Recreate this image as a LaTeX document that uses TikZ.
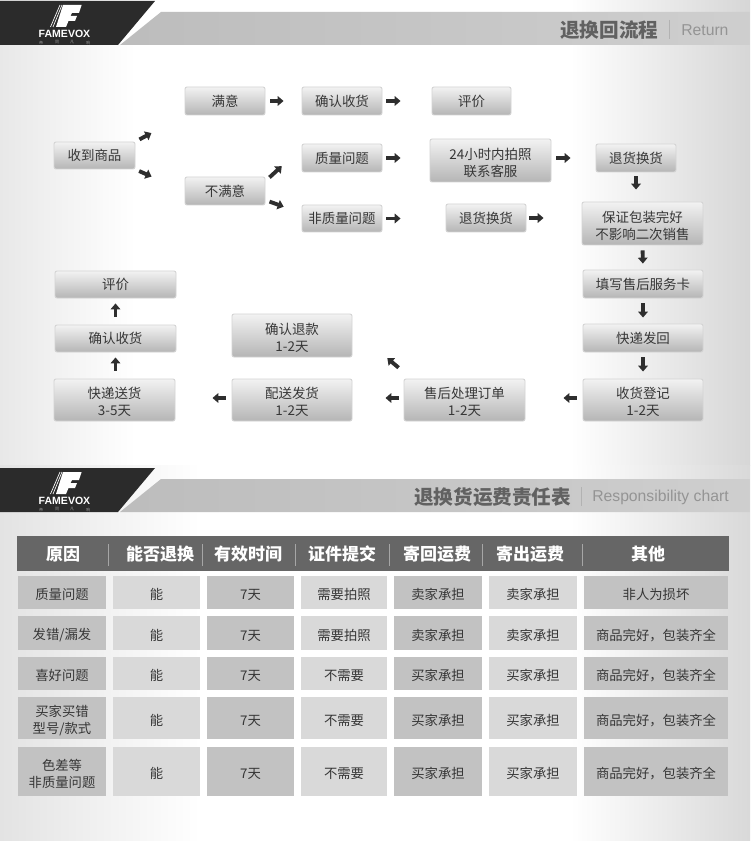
\documentclass[tikz,border=0pt]{standalone}
\usepackage{fontspec}
\setmainfont{Noto Sans CJK SC}
\newfontfamily\latinsans{Liberation Sans}
\usetikzlibrary{arrows.meta,calc}
\definecolor{ink}{HTML}{363636}
\definecolor{arrowink}{HTML}{2E2E2E}
\definecolor{darkcell}{HTML}{C2C2C2}
\definecolor{lightcell}{HTML}{D9D9D9}
\definecolor{headbar}{HTML}{666666}
\definecolor{logoblack}{HTML}{2B2B2B}
\tikzset{
  flowbox/.style={draw=black!17,line width=.7pt,rounded corners=1.5pt,top color=black!5,bottom color=black!29,
    text=ink,align=center,inner sep=0pt,font=\fontsize{10.1}{12.9}\selectfont},
  tcell/.style={inner sep=0pt,align=center,text=ink,font=\fontsize{10}{13}\selectfont},
  headtext/.style={inner sep=0pt,text=white,font=\fontsize{12.75}{15}\selectfont\bfseries},
  titletext/.style={inner sep=0pt,text=black!62,font=\fontsize{14.7}{17}\selectfont\bfseries},
  entext/.style={inner sep=0pt,text=black!42,font=\latinsans\fontsize{11.8}{14}\selectfont},
  blockarrow/.style 2 args={draw=arrowink,line width=2.9pt,-{Triangle[length=4.4pt,width=7.2pt]},
    shorten <=#1*.75pt,shorten >=#2*.75pt},
  sepline/.style={draw=black!35,line width=.6pt},
  titlesep/.style={draw=black!30,line width=.6pt}
}
% invisible strut at the head of a text block: lowers the block inside its box
\newcommand{\lowfirst}{\rule{0pt}{11.8pt}}
\newcommand{\bx}[6]{\node[flowbox,minimum width={(#4-#2)*.75pt},minimum height={(#5-#3)*.75pt}] (#1) at ({(#2+#4)/2},{(#3+#5)/2}) {#6};}
\newcommand{\cellbx}[7]{\node[tcell,fill=#6,minimum width={(#4-#2)*.75pt},minimum height={(#5-#3)*.75pt}] (#1) at ({(#2+#4)/2},{(#3+#5)/2}) {\lowfirst #7};}
\newcommand{\tablerow}[8]{%
  \cellbx{c#1a}{18}{#2}{106}{#3}{darkcell}{#4}
  \cellbx{c#1b}{113}{#2}{200}{#3}{lightcell}{能}
  \cellbx{c#1c}{207}{#2}{294}{#3}{darkcell}{7天}
  \cellbx{c#1d}{301}{#2}{387}{#3}{lightcell}{#5}
  \cellbx{c#1e}{394}{#2}{482}{#3}{darkcell}{#6}
  \cellbx{c#1f}{489}{#2}{577}{#3}{lightcell}{#7}
  \cellbx{c#1g}{584}{#2}{728}{#3}{darkcell}{#8}}
\newcommand{\headerband}[2]{%
  \begin{scope}[shift={(0,#1)}]
    \shade[left color=black!26,right color=black!19] (161,12) -- (750,12) -- (750,45) -- (120,45) -- cycle;
    \fill[logoblack] (0,1) -- (155,1) -- (118,45) -- (0,45) -- cycle;
    \fill[white] (63,5) -- (81.6,5) -- (79,13) -- (72,13) -- (70.5,16) -- (77,16) -- (75,21) -- (68.5,21) -- (66,27) -- (56,27) -- cycle;
    \draw[white,line width=.5pt] (50.5,27) -- (60,5) (53,27) -- (62,5);
    \node[inner sep=0pt,text=white,font=\latinsans\fontsize{7.9}{9}\selectfont\bfseries] (#2brand) at (64.5,34) {FAMEVOX};
    \node[inner sep=0pt,text=black!40,font=\fontsize{3}{4}\selectfont] (#2tag1) at (41,42.5) {帝};
    \node[inner sep=0pt,text=black!40,font=\fontsize{3}{4}\selectfont] (#2tag2) at (57,42.5) {同};
    \node[inner sep=0pt,text=black!40,font=\fontsize{3}{4}\selectfont] (#2tag3) at (72,42.5) {凡};
    \node[inner sep=0pt,text=black!40,font=\fontsize{3}{4}\selectfont] (#2tag4) at (88,42.5) {响};
  \end{scope}}
\begin{document}
\begin{tikzpicture}[x=.75pt,y=-.75pt]
\useasboundingbox (0,0) rectangle (750,841);
% page background
\fill[white] (0,0) rectangle (750,841);
\shade[left color=black!9,right color=white] (0,0) rectangle (135,465);
\shade[left color=white,right color=black!16] (570,0) rectangle (750,465);
\shade[left color=black!11,right color=white] (0,465) rectangle (200,841);
\shade[left color=white,right color=black!15] (570,465) rectangle (750,841);
% header bands
\headerband{0}{a}
\headerband{467}{b}
\node[titletext,anchor=west] (title1) at (560,30.5) {退换回流程};
\draw[titlesep] (669,20) -- (669,39);
\node[entext,anchor=west] (en1) at (681,30.5) {Return};
\node[titletext,anchor=west] (title2) at (414,497) {退换货运费责任表};
\draw[titlesep] (581,487) -- (581,506);
\node[entext,anchor=west] (en2) at (592,497.5) {Responsibility chart};
% flow boxes
\bx{recv}{54}{142}{135}{169}{收到商品}
\bx{sat}{185}{87}{265}{115}{满意}
\bx{conf}{302}{87}{382}{115}{确认收货}
\bx{rate}{432}{87}{511}{115}{评价}
\bx{dis}{185}{177}{265}{205}{不满意}
\bx{qual}{302}{144}{382}{172}{质量问题}
\bx{nonq}{302}{205}{382}{232}{非质量问题}
\bx{photo}{430}{139}{551}{182}{\lowfirst 24小时内拍照\\联系客服}
\bx{ret}{596}{144}{676}{172}{退货换货}
\bx{retb}{446}{204}{526}{232}{退货换货}
\bx{pack}{582}{202}{703}{245}{\lowfirst 保证包装完好\\不影响二次销售}
\bx{card}{583}{270}{703}{298}{填写售后服务卡}
\bx{back}{583}{324}{703}{352}{快递发回}
\bx{sign}{583}{379}{703}{421}{\lowfirst 收货登记\\1-2天}
\bx{proc}{404}{379}{525}{421}{\lowfirst 售后处理订单\\1-2天}
\bx{ship}{232}{379}{352}{421}{\lowfirst 配送发货\\1-2天}
\bx{refund}{232}{314}{352}{357}{\lowfirst 确认退款\\1-2天}
\bx{deliv}{54}{379}{175}{421}{\lowfirst 快递送货\\3-5天}
\bx{confb}{55}{325}{176}{352}{确认收货}
\bx{rateb}{55}{271}{176}{298}{评价}
% block arrows
\draw[blockarrow={4.5}{37.5}] (recv.north east) -- (sat.south west);
\draw[blockarrow={4}{36}] (recv.south east) -- (dis.west);
\draw[blockarrow={5}{18}] (sat.east) -- (conf.west);
\draw[blockarrow={4}{31}] (conf.east) -- (rate.west);
\draw[blockarrow={5.4}{26.8}] ([yshift=-3.4pt]dis.north east) -- ([yshift=-3.4pt]qual.north west);
\draw[blockarrow={4.3}{19}] ([yshift=4pt]dis.south east) -- ([yshift=4pt]nonq.west);
\draw[blockarrow={4}{29}] (qual.east) -- (qual.east -| photo.west);
\draw[blockarrow={5}{25}] (ret.west -| photo.east) -- (ret.west);
\draw[blockarrow={4}{12}] (ret.south) -- (ret.south |- pack.north);
\draw[blockarrow={4}{45}] (nonq.east) -- (nonq.east -| retb.west);
\draw[blockarrow={3}{38}] (retb.east) -- (retb.east -| pack.west);
\draw[blockarrow={5}{6}] (pack.south) -- (card.north);
\draw[blockarrow={5}{6}] (card.south) -- (back.north);
\draw[blockarrow={5}{7}] (back.south) -- (sign.north);
\draw[blockarrow={6}{38}] ([yshift=1.5pt]sign.west) -- ([yshift=1.5pt]proc.east);
\draw[blockarrow={5}{33}] ([yshift=1.5pt]proc.west) -- ([yshift=1.5pt]ship.east);
\draw[blockarrow={6}{37}] ([yshift=1.5pt]ship.west) -- ([yshift=1.5pt]deliv.east);
\draw[blockarrow={6.5}{45.6}] ([yshift=5pt]proc.north west) -- ([yshift=5pt]refund.east);
\draw[blockarrow={8}{5}] (confb.south |- deliv.north) -- (confb.south);
\draw[blockarrow={8}{5}] (confb.north) -- (rateb.south);
% table header
\node[fill=headbar,inner sep=0pt,minimum width={712*.75pt},minimum height={35*.75pt}] (thead) at (373,553.5) {};
\node[headtext] (h1) at (63,554) {原因};
\node[headtext] (h2) at (160,554) {能否退换};
\node[headtext] (h3) at (248,554) {有效时间};
\node[headtext] (h4) at (342,554) {证件提交};
\node[headtext] (h5) at (437,554) {寄回运费};
\node[headtext] (h6) at (530,554) {寄出运费};
\node[headtext] (h7) at (648,554) {其他};
\foreach \sx in {108.5,202,295,389,482.5,582.5}
  \draw[sepline] (\sx,544) -- (\sx,566);
% table rows
\tablerow{1}{576}{609}{质量问题}{需要拍照}{卖家承担}{卖家承担}{非人为损坏}
\tablerow{2}{616}{650}{发错/漏发}{需要拍照}{卖家承担}{卖家承担}{商品完好，包装齐全}
\tablerow{3}{657}{690}{喜好问题}{不需要}{买家承担}{买家承担}{商品完好，包装齐全}
\tablerow{4}{697}{739}{买家买错\\型号/款式}{不需要}{买家承担}{买家承担}{商品完好，包装齐全}
\tablerow{5}{747}{796}{色差等\\非质量问题}{不需要}{买家承担}{买家承担}{商品完好，包装齐全}
\end{tikzpicture}
\end{document}
